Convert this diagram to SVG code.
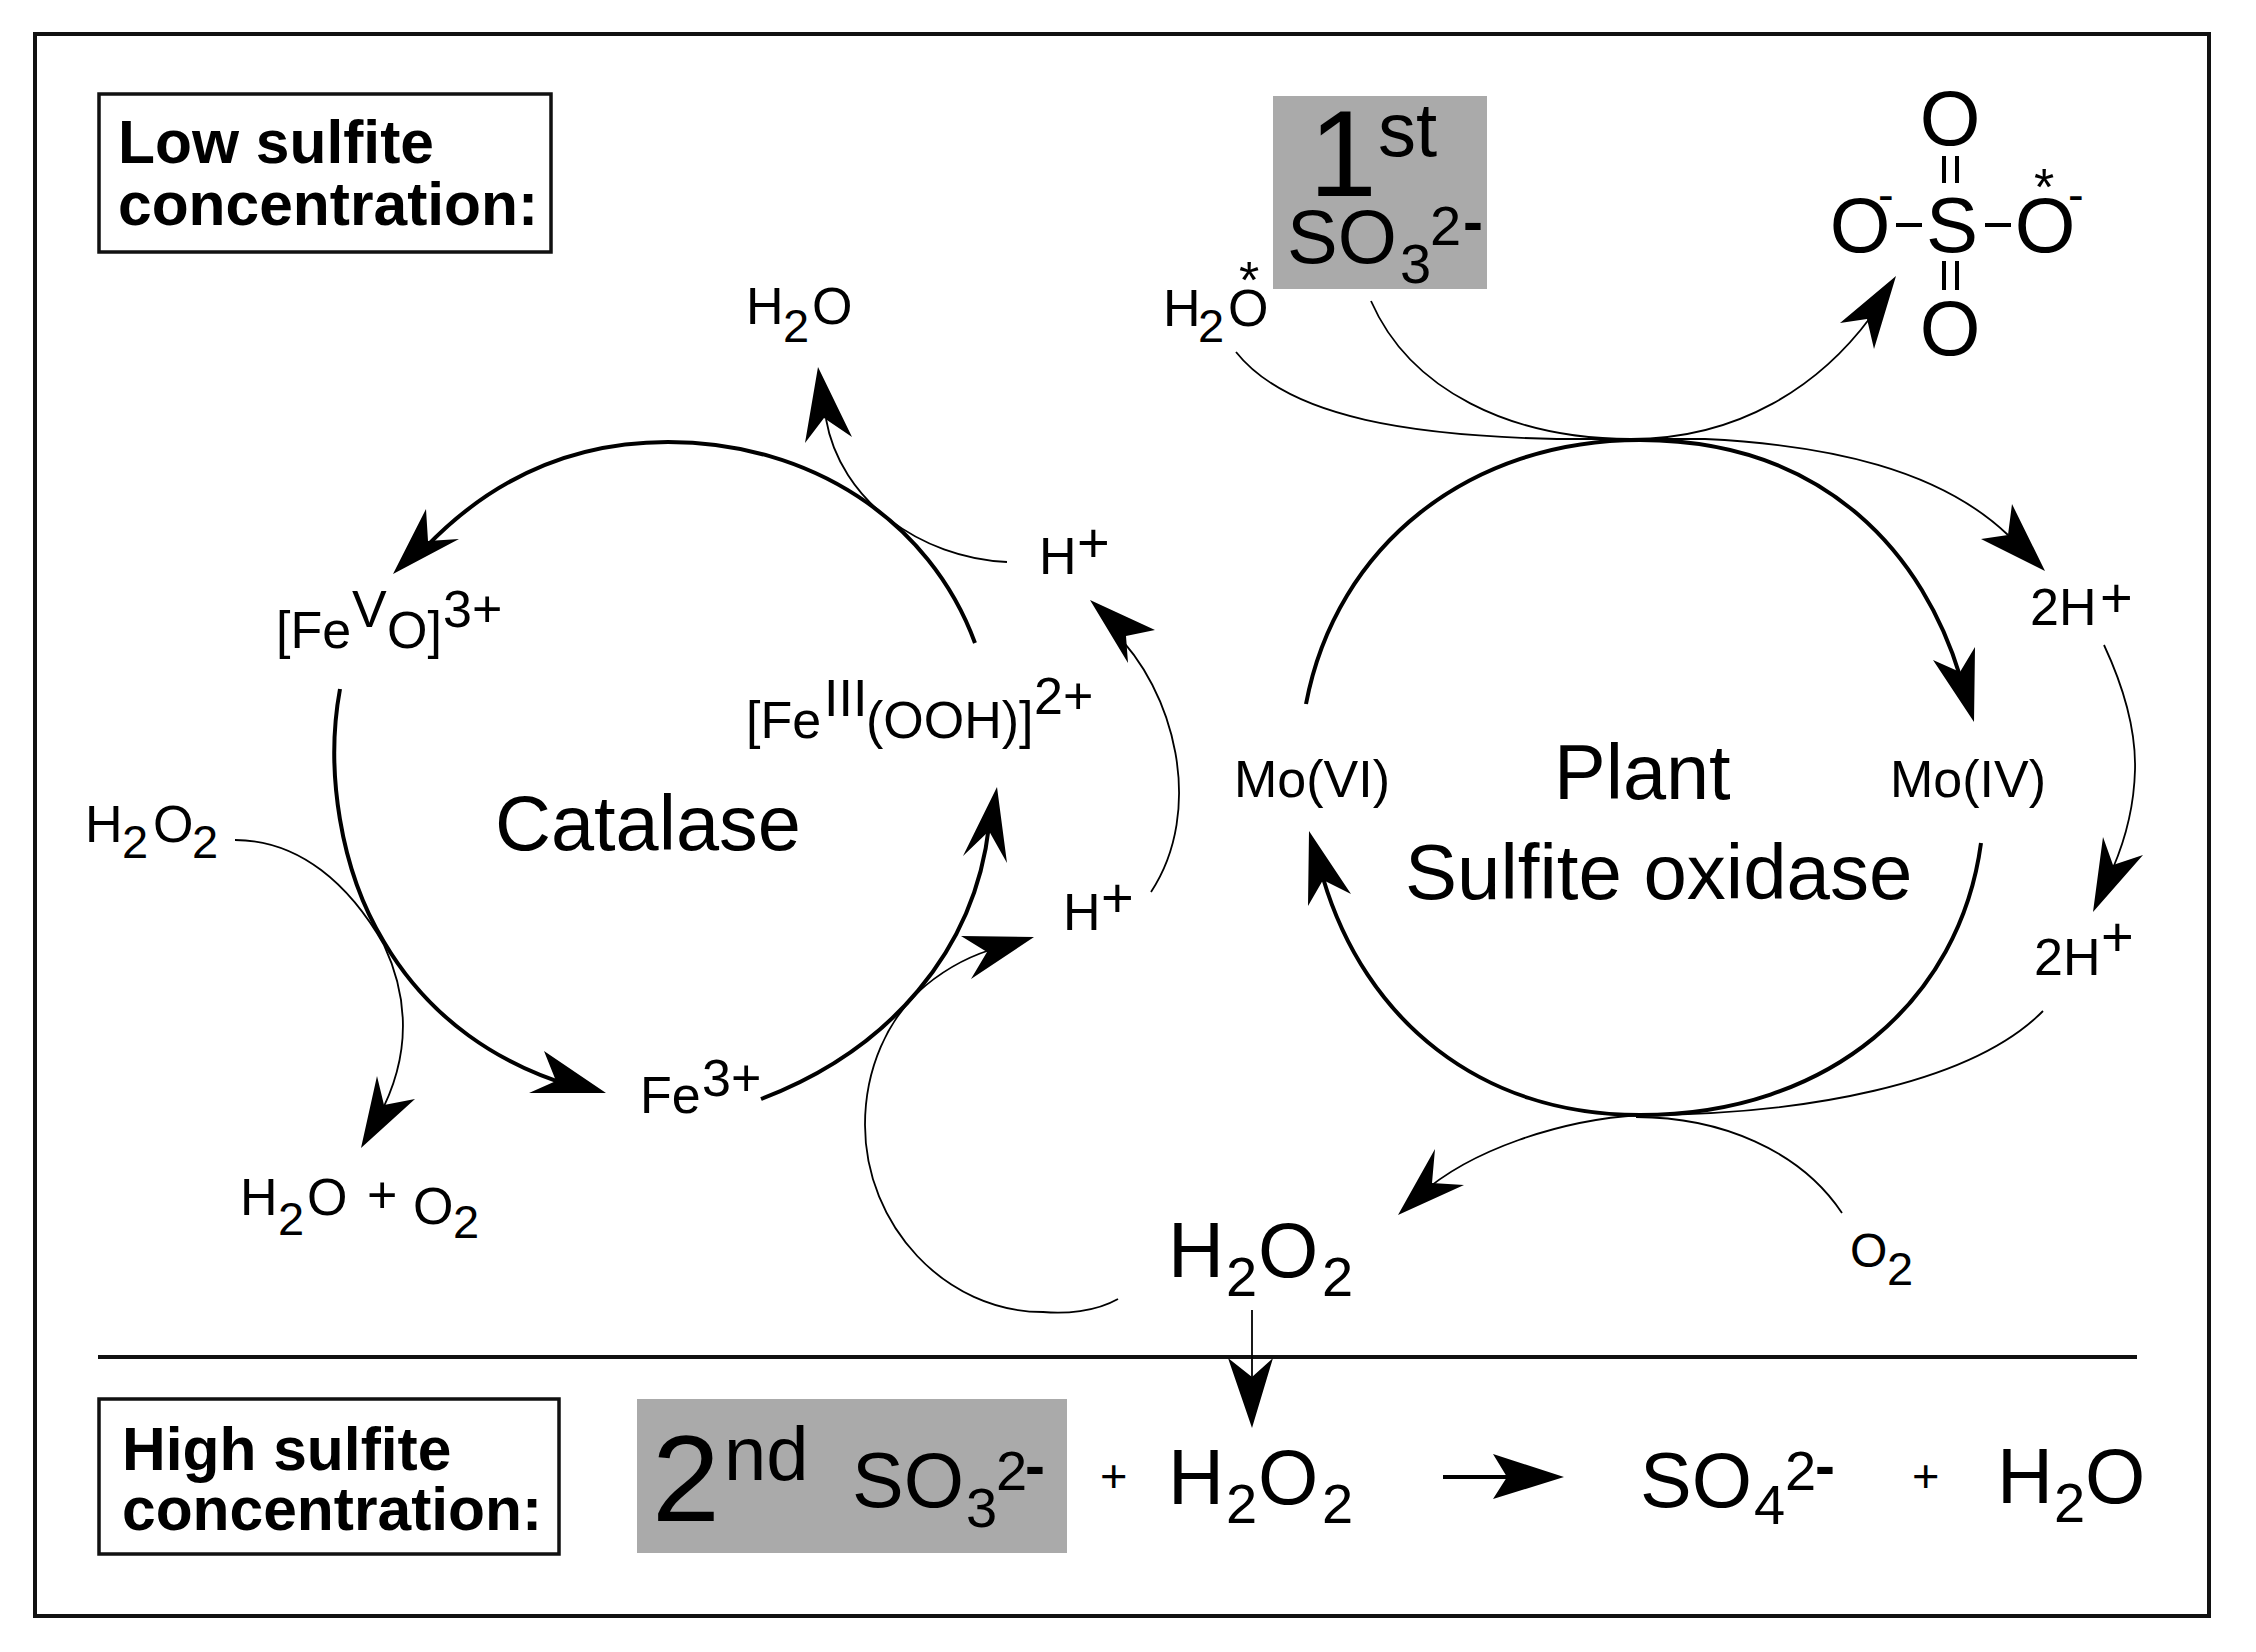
<svg xmlns="http://www.w3.org/2000/svg" width="2256" height="1652" viewBox="0 0 2256 1652">
<style>
text{font-family:"Liberation Sans",Arial,sans-serif;fill:#000}
.b{font-weight:700;font-size:60.5px}
.s{font-size:52px}
.ss{font-size:47px}
.m{font-size:77.5px}
.ms{font-size:56px}
.l{font-size:122px}
.st{font-size:76px}
.o{font-size:78px}
.p{font-size:56px}
.star{font-size:52px}
.hy{font-size:60px;font-weight:700}
.frame{fill:none;stroke:#111;stroke-width:4}
.lab{fill:#fff;stroke:#111;stroke-width:3.5}
.gray{fill:#aaa}
.thin{fill:none;stroke:#000;stroke-width:1.8}
.thick{fill:none;stroke:#000;stroke-width:4}
.head{fill:#000}
.bond{stroke:#000;stroke-width:4;fill:none}
</style>
<rect width="2256" height="1652" fill="#fff"/>
<rect class="frame" x="35" y="34" width="2174" height="1582"/>
<line x1="98" y1="1357" x2="2137" y2="1357" stroke="#111" stroke-width="4"/>

<g id="connectors">
<path class="thin" d="M1371 301C1410 390 1510 439 1631 439C1740 439 1820 385 1870 318"/>
<polygon class="head" points="1896,276 1874,349 1867,319 1840,323"/>
<path class="thin" d="M1236 352C1290 420 1420 436 1557 439L1705 439C1830 445 1940 470 2008 535"/>
<polygon class="head" points="2045,571 2012,504 2008,535 1981,539"/>
<path class="thick" d="M1306 704C1336 545 1470 440 1640 440C1830 440 1925 560 1960 676"/>
<polygon class="head" points="1974,722 1933,660 1960,672 1975,647"/>
<path class="thick" d="M1981 843C1960 1000 1830 1115 1640 1115C1480 1115 1365 1020 1323 878"/>
<polygon class="head" points="1309,831 1308,906 1323,880 1351,894"/>
<path class="thick" d="M975 643C930 520 810 442 668 442C570 442 490 480 425 548"/>
<polygon class="head" points="393,574 426,509 428,541 459,539"/>
<path class="thick" d="M340 689C325 770 340 870 384 942C430 1020 500 1065 575 1087"/>
<polygon class="head" points="606,1093 544,1051 556,1081 529,1093"/>
<path class="thick" d="M761 1099C890 1050 975 950 989 826"/>
<polygon class="head" points="997,787 963,856 989,831 1007,863"/>
<path class="thin" d="M1007 562C920 558 840 500 826 419"/>
<polygon class="head" points="818,367 805,443 824,418 852,437"/>
<path class="thin" d="M1151 892C1205 810 1175 690 1112 630"/>
<polygon class="head" points="1090,600 1128,663 1126,636 1155,630"/>
<path class="thin" d="M235 840C300 840 350 885 384 945C405 990 415 1050 378 1118"/>
<polygon class="head" points="361,1148 377,1076 384,1105 415,1099"/>
<path class="thin" d="M1118 1299C1095 1312 1065 1314 1043 1312C945 1312 865 1225 865 1125C865 1065 890 1020 917 993C940 972 965 958 990 950"/>
<polygon class="head" points="1034,937 961,936 987,952 971,979"/>
<path class="thin" d="M2104 645C2125 690 2136 730 2135 770C2134 810 2125 840 2113 868"/>
<polygon class="head" points="2093,912 2103,837 2113,865 2143,855"/>
<path class="thin" d="M2043 1011C1970 1085 1800 1115 1640 1115C1560 1120 1470 1150 1420 1195"/>
<polygon class="head" points="1398,1215 1435,1149 1432,1183 1464,1185"/>
<path class="thin" d="M1842 1213C1800 1150 1720 1117 1636 1117"/>
<line class="thin" x1="1252" y1="1310" x2="1252" y2="1380"/>
<polygon class="head" points="1252,1428 1228,1358 1252,1377 1273,1358"/>
<line x1="1443" y1="1477" x2="1515" y2="1477" stroke="#000" stroke-width="4"/>
<polygon class="head" points="1564,1477 1493,1454 1507,1477 1493,1499"/>
</g>

<g id="low-sulfite"><rect class="lab" x="99" y="94" width="452" height="158"/>
<text class="b"><tspan x="118" y="163">Low sulfite</tspan><tspan x="118" y="225">concentration:</tspan></text></g>

<g id="first-sulfite"><rect class="gray" x="1273" y="96" width="214" height="193"/>
<text><tspan class="l" x="1309" y="196">1</tspan><tspan class="st" x="1378" y="156">st</tspan><tspan class="st" x="1287" y="263">SO</tspan><tspan class="ms" x="1400" y="283">3</tspan><tspan class="ms" x="1430" y="245">2</tspan><tspan class="hy" x="1463" y="242">-</tspan></text></g>

<g id="water-star"><text><tspan class="s" x="1163" y="326">H</tspan><tspan class="ss" x="1198" y="342">2</tspan><tspan class="s" x="1228" y="326">O</tspan><tspan class="star" x="1239" y="298">*</tspan></text></g>

<g id="sulfate"><text class="o" text-anchor="middle"><tspan x="1950" y="145">O</tspan><tspan x="1860" y="252">O</tspan><tspan x="1952" y="252">S</tspan><tspan x="2045" y="252">O</tspan><tspan x="1950" y="355">O</tspan></text>
<text class="ss"><tspan x="1878" y="211">-</tspan><tspan x="2068" y="211">-</tspan></text><text class="star" x="2034" y="205">*</text>
<path class="bond" d="M1896 225H1922M1985 225H2011M1944 156V183M1957 156V183M1944 261V290M1957 261V290"/></g>

<g id="catalase-label"><text class="m" x="495" y="850">Catalase</text></g>
<g id="sulfite-oxidase-label"><text class="m"><tspan x="1554" y="799">Plant</tspan><tspan x="1405" y="899" style="font-size:78px">Sulfite oxidase</tspan></text></g>
<g id="mo-vi"><text class="s" x="1234" y="797">Mo(VI)</text></g>
<g id="mo-iv"><text class="s" x="1890" y="797">Mo(IV)</text></g>
<g id="two-h-a"><text><tspan class="s" x="2030" y="625">2H</tspan><tspan class="p" x="2100" y="617">+</tspan></text></g>
<g id="two-h-b"><text><tspan class="s" x="2034" y="975">2H</tspan><tspan class="p" x="2101" y="956">+</tspan></text></g>
<g id="h-top"><text><tspan class="s" x="1039" y="574">H</tspan><tspan class="p" x="1077" y="562">+</tspan></text></g>
<g id="h-low"><text><tspan class="s" x="1063" y="930">H</tspan><tspan class="p" x="1101" y="917">+</tspan></text></g>
<g id="water-top"><text><tspan class="s" x="746" y="324">H</tspan><tspan class="ss" x="783" y="342">2</tspan><tspan class="s" x="812" y="324">O</tspan></text></g>
<g id="fe-v"><text><tspan class="s" x="276" y="648">[Fe</tspan><tspan class="s" x="352" y="627">V</tspan><tspan class="s" x="387" y="648">O]</tspan><tspan class="s" x="443" y="627">3+</tspan></text></g>
<g id="fe-iii"><text><tspan class="s" x="746" y="738">[Fe</tspan><tspan class="s" x="824" y="716">III</tspan><tspan class="s" x="866" y="738">(OOH)]</tspan><tspan class="s" x="1034" y="714">2+</tspan></text></g>
<g id="fe-3"><text><tspan class="s" x="640" y="1113">Fe</tspan><tspan class="s" x="702" y="1096">3+</tspan></text></g>
<g id="h2o2-left"><text><tspan class="s" x="85" y="842">H</tspan><tspan class="ss" x="122" y="858">2</tspan><tspan class="s" x="153" y="842">O</tspan><tspan class="ss" x="192" y="858">2</tspan></text></g>
<g id="water-oxygen"><text><tspan class="s" x="240" y="1215">H</tspan><tspan class="ss" x="278" y="1235">2</tspan><tspan class="s" x="307" y="1215">O</tspan><tspan class="s" x="367" y="1213">+</tspan><tspan class="s" x="413" y="1224">O</tspan><tspan class="ss" x="453" y="1238">2</tspan></text></g>
<g id="oxygen-right"><text><tspan class="ms" x="1850" y="1267" style="font-size:48px">O</tspan><tspan class="ss" x="1887" y="1285">2</tspan></text></g>
<g id="h2o2-center"><text><tspan class="m" x="1168" y="1277">H</tspan><tspan class="ms" x="1226" y="1296">2</tspan><tspan class="m" x="1258" y="1277">O</tspan><tspan class="ms" x="1322" y="1296">2</tspan></text></g>

<g id="high-sulfite"><rect class="lab" x="99" y="1399" width="460" height="155"/>
<text class="b"><tspan x="122" y="1470">High sulfite</tspan><tspan x="122" y="1530">concentration:</tspan></text></g>
<g id="second-sulfite"><rect class="gray" x="637" y="1399" width="430" height="154"/>
<text><tspan class="l" x="652" y="1521">2</tspan><tspan class="st" x="724" y="1480">nd</tspan><tspan class="m" x="852" y="1507">SO</tspan><tspan class="ms" x="966" y="1527">3</tspan><tspan class="ms" x="996" y="1490">2</tspan><tspan class="hy" x="1025" y="1486">-</tspan></text></g>
<g id="plus-a"><text class="ss" x="1100" y="1492">+</text></g>
<g id="h2o2-eq"><text><tspan class="m" x="1168" y="1504">H</tspan><tspan class="ms" x="1226" y="1523">2</tspan><tspan class="m" x="1258" y="1504">O</tspan><tspan class="ms" x="1322" y="1523">2</tspan></text></g>
<g id="sulfate-eq"><text><tspan class="m" x="1640" y="1507">SO</tspan><tspan class="ms" x="1754" y="1524">4</tspan><tspan class="ms" x="1785" y="1490">2</tspan><tspan class="hy" x="1815" y="1486">-</tspan></text></g>
<g id="plus-b"><text class="ss" x="1912" y="1492">+</text></g>
<g id="water-eq"><text><tspan class="m" x="1997" y="1503">H</tspan><tspan class="ms" x="2054" y="1522">2</tspan><tspan class="m" x="2085" y="1503">O</tspan></text></g>
</svg>
